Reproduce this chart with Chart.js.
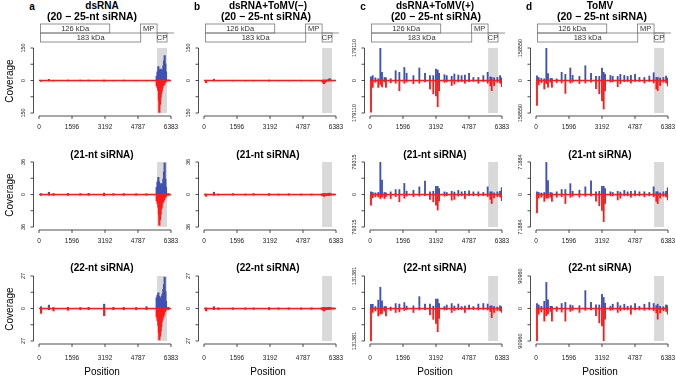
<!DOCTYPE html>
<html>
<head>
<meta charset="utf-8">
<script src="https://cdn.jsdelivr.net/npm/chart.js@4.4.0/dist/chart.umd.min.js"></script>
<style>
  body { margin: 0; background: #fff; }
  #fig { position: relative; width: 676px; height: 378px; overflow: hidden;
         font-family: "Liberation Sans", Arial, sans-serif; color: #000; }
  #fig canvas { position: absolute; }
  .lbl { position: absolute; white-space: nowrap; transform: translate(-50%, -50%); line-height: 1; }
  .ttl { font-weight: bold; font-size: 10px; }
  .sub { font-weight: bold; font-size: 10.5px; }
  .axt { font-size: 10px; }
  .let { font-weight: bold; font-size: 10px; }
</style>
</head>
<body>
<div id="fig"></div>
<script>
// ---- data ----
const genomeLen = 6383;
const xTicks = [0, 1596, 3192, 4787, 6383];
const panelLetters = ["a", "b", "c", "d"];
const panelTitles = ["dsRNA", "dsRNA+ToMV(\u2212)", "dsRNA+ToMV(+)", "ToMV"];
const rowTitles = ["(20 \u2212 25-nt siRNA)", "(21-nt siRNA)", "(22-nt siRNA)"];
const yMax = [
  [150, 150, 179110, 158550],
  [36, 36, 79315, 71884],
  [27, 27, 131381, 90960]
];

// ORF map (nt)
const geneNames = ["126 kDa", "183 kDa", "MP", "CP"];
const geneStart = [72, 72, 4903, 5712];
const geneEnd = [3420, 4919, 5709, 6190];
const geneLane = [0, 1, 0, 1];
const cpShade = [5712, 6190];

// columns a, b (dsRNA / dsRNA+ToMV(-)): positions in nt
const abPos = [100, 480, 700, 1400, 2000, 2400, 3150, 3600, 4100, 4700, 5200,
  5690, 5730, 5771, 5800, 5820, 5850, 5884, 5910, 5932, 5970, 6013, 6045, 6077, 6110, 6140, 6250];
const aSense20 = [1, 5, 1, 2, 2, 2, 2, 1, 2, 1, 1, 20, 40, 64, 50, 45, 40, 53, 45, 38, 50, 68, 90, 115, 76, 40, 3];
const aAnti20 = [4, 2, 3, 2, 2, 2, 4, 2, 2, 2, 2, 24, 35, 47, 90, 147, 110, 78, 60, 47, 35, 24, 18, 12, 8, 5, 2];
const aSense21 = [1, 2.5, 1, 1.2, 1, 1.2, 1.5, 1, 1, 0.8, 0.8, 8, 14, 19, 14, 12, 10, 12, 10, 8, 12, 17, 25, 35, 17, 8, 1];
const aAnti21 = [1, 0.8, 1, 1, 0.8, 1, 1.5, 0.8, 1, 0.8, 0.8, 7, 10, 14, 22, 34, 28, 22, 16, 14, 10, 8, 6, 4, 3, 2, 1];
const aSense22 = [1.5, 2.8, 0.8, 1, 0.8, 1, 3.6, 1, 1, 0.8, 1.5, 9, 11, 13, 10, 8, 7, 8, 9, 10, 12, 16, 20, 26, 14, 6, 1];
const aAnti22 = [4, 1, 2, 1.5, 1, 1, 6, 1, 1, 1, 1, 7, 10, 14, 20, 26, 23, 19, 15, 11, 9, 7, 5, 3, 2, 1, 1];
const bSense20 = [1, 6, 1, 1, 1, 1, 2, 1, 1, 1, 1, 1, 1, 1, 2, 1, 1, 2, 1, 1, 2, 3, 5, 9, 3, 1, 1];
const bAnti20 = [10, 2, 2, 2, 2, 2, 3, 2, 2, 2, 2, 3, 5, 10, 15, 12, 8, 5, 3, 2, 2, 2, 2, 1, 1, 1, 1];
const bSense21 = [0.5, 2.5, 0.5, 1, 0.5, 1, 1, 0.5, 0.8, 0.5, 0.5, 0.5, 0.5, 0.5, 0.8, 0.5, 0.5, 0.8, 0.5, 0.5, 0.5, 1, 1, 1.5, 0.5, 0.5, 0.5];
const bAnti21 = [2, 1, 0.8, 0.8, 0.8, 0.8, 1, 0.8, 0.8, 0.8, 0.8, 0.8, 1, 1.5, 2, 1.5, 1, 1, 0.8, 0.8, 0.8, 0.8, 0.8, 0.5, 0.5, 0.5, 0.5];
const bSense22 = [0.5, 1.5, 0.5, 0.5, 0.5, 0.5, 0.8, 0.5, 0.5, 0.5, 0.5, 0.5, 0.5, 0.5, 0.5, 0.5, 0.5, 0.5, 0.5, 0.5, 0.5, 0.8, 0.8, 1, 0.5, 0.5, 0.5];
const bAnti22 = [2, 1, 1, 0.8, 0.8, 0.8, 1, 0.8, 0.8, 0.8, 0.8, 0.8, 1, 1.5, 2, 1.5, 1, 0.8, 0.8, 0.8, 0.8, 0.8, 0.5, 0.5, 0.5, 0.5, 0.5];

// columns c, d (ToMV present): peak positions in nt
const tomvPos = [48, 130, 260, 400, 500, 580, 700, 770, 1000, 1240, 1420, 1660, 1770, 2100, 2386, 2660,
  2900, 3060, 3190, 3272, 3340, 3600, 3710, 3950, 4080, 4270, 4430, 4590, 4790, 5000, 5240, 5480,
  5690, 5820, 5885, 6000, 6160, 6290, 6370];
const cSense20 = [20000, 27000, 15000, 10000, 178000, 45000, 17000, 15000, 10000, 54000, 45000, 72000, 40000, 27000, 69000, 40000,
  27000, 27000, 63000, 58000, 40000, 32000, 27000, 23000, 36000, 30000, 27000, 30000, 40000, 17000, 17000, 27000,
  45000, 20000, 17000, 15000, 17000, 27000, 15000];
const cAnti20 = [175000, 38000, 10000, 38000, 22000, 35000, 8000, 38000, 12000, 15000, 56000, 15000, 8000, 18000, 15000, 8000,
  47000, 74000, 85000, 144000, 56000, 10000, 8000, 28000, 19000, 8000, 6000, 15000, 6000, 5000, 15000, 6000,
  15000, 30000, 56000, 28000, 10000, 15000, 34000];
const cSense21 = [6500, 5000, 4000, 5000, 79000, 35000, 5000, 4000, 6500, 12000, 12000, 27000, 8000, 10500, 18600, 33000,
  6500, 8000, 20000, 20000, 14500, 6500, 5000, 8000, 6000, 10000, 6500, 8000, 9000, 6500, 6500, 5000,
  18600, 6500, 6500, 4000, 6500, 8000, 17000];
const cAnti21 = [26000, 8000, 5700, 6000, 9700, 6000, 9700, 5000, 9700, 5000, 17800, 9000, 4000, 5000, 4000, 3000,
  12000, 18000, 26000, 38000, 16000, 4000, 3000, 13800, 12000, 4000, 3000, 9700, 3000, 3000, 4000, 3000,
  5000, 12000, 22000, 8000, 5000, 6000, 15000];
const cSense22 = [17000, 17000, 8000, 34000, 86000, 31000, 8000, 8000, 6000, 20000, 18000, 24000, 10000, 11000, 48000, 18000,
  18000, 10000, 38000, 38000, 20000, 8000, 14000, 20000, 10000, 18000, 8000, 10000, 14000, 8000, 18000, 20000,
  18000, 10000, 11000, 8000, 6000, 11000, 8000];
const cAnti22 = [131000, 16000, 10000, 30000, 23000, 20000, 10000, 30000, 8000, 16000, 14000, 8000, 5000, 16000, 6000, 5000,
  25000, 44000, 60000, 94000, 40000, 6000, 5000, 16000, 8000, 5000, 4000, 16000, 4000, 4000, 6000, 4000,
  6000, 12000, 37000, 16000, 8000, 10000, 16000];
const dSense20 = [23000, 15000, 10000, 8000, 158000, 34000, 10000, 10000, 8000, 40000, 30000, 61000, 25000, 20000, 72000, 35000,
  20000, 20000, 61000, 40000, 30000, 25000, 20000, 20000, 30000, 25000, 20000, 25000, 30000, 15000, 15000, 22000,
  38000, 15000, 15000, 12000, 15000, 22000, 12000];
const dAnti20 = [122000, 20000, 10000, 41000, 15000, 33000, 8000, 33000, 10000, 12000, 63000, 12000, 8000, 15000, 12000, 8000,
  40000, 65000, 98000, 139000, 50000, 8000, 6000, 30000, 15000, 6000, 5000, 12000, 5000, 5000, 12000, 5000,
  12000, 41000, 49000, 25000, 8000, 12000, 26000];
const dSense21 = [6000, 4500, 3500, 4500, 71000, 31000, 4500, 3500, 6000, 11000, 11000, 24000, 7000, 9500, 17000, 30000,
  6000, 7000, 18000, 18000, 13000, 6000, 4500, 7000, 5500, 9000, 6000, 7000, 8000, 6000, 6000, 4500,
  17000, 6000, 6000, 3500, 6000, 7000, 15000];
const dAnti21 = [40000, 8000, 6000, 15000, 8000, 8000, 6000, 15000, 6000, 5000, 20000, 6000, 4000, 6000, 4000, 3000,
  15000, 25000, 35000, 60000, 20000, 3000, 3000, 12000, 8000, 3000, 3000, 6000, 3000, 3000, 5000, 3000,
  5000, 15000, 20000, 8000, 4000, 5000, 12000];
const dSense22 = [14000, 10000, 6000, 20000, 73000, 24000, 6000, 6000, 5000, 14000, 17000, 10000, 8000, 8000, 50000, 17000,
  10000, 10000, 40000, 31000, 15000, 6000, 12000, 17000, 8000, 12000, 6000, 8000, 14000, 6000, 12000, 17000,
  14000, 8000, 12000, 6000, 5000, 10000, 8000];
const dAnti22 = [91000, 16000, 10000, 35000, 20000, 15000, 8000, 35000, 8000, 10000, 35000, 8000, 5000, 11000, 5000, 4000,
  20000, 40000, 49000, 90000, 30000, 5000, 4000, 11000, 6000, 4000, 4000, 16000, 4000, 4000, 5000, 4000,
  6000, 12000, 30000, 12000, 6000, 8000, 16000];

const panelPos = [abPos, abPos, tomvPos, tomvPos];
const senseSets = [
  [aSense20, bSense20, cSense20, dSense20],
  [aSense21, bSense21, cSense21, dSense21],
  [aSense22, bSense22, cSense22, dSense22]
];
const antiSets = [
  [aAnti20, bAnti20, cAnti20, dAnti20],
  [aAnti21, bAnti21, cAnti21, dAnti21],
  [aAnti22, bAnti22, cAnti22, dAnti22]
];

// ---- layout ----
const colX0 = [39, 204, 370, 536];
const rowY0 = [48, 162, 276];
const plotW = 132, plotH = 65;
const pad = { left: 38, right: 10, top: 30, bottom: 24 };
const barW = [1.5, 1.5, 1.2, 1.2];

const blueCol = "#3f51b5";
const redCol = "#ff1a1a";
const shadeCol = "#d9d9d9";
const axisCol = "#222";

const fig = document.getElementById("fig");

function addLabel(text, x, y, cls, rotate) {
  const d = document.createElement("div");
  d.className = "lbl " + cls;
  d.textContent = text;
  d.style.left = x + "px";
  d.style.top = y + "px";
  if (rotate) d.style.transform = "translate(-50%, -50%) rotate(-90deg)";
  fig.appendChild(d);
}

// R-like axes, CP shading, zero line and ORF boxes
const rStyle = {
  id: "rStyle",
  beforeDatasetsDraw(chart) {
    const { ctx, scales: { x, y } } = chart;
    const m = chart.options.plugins.rStyle.max;
    const l = x.getPixelForValue(cpShade[0]), r = x.getPixelForValue(cpShade[1]);
    const t = y.getPixelForValue(m), b = y.getPixelForValue(-m);
    ctx.save();
    ctx.fillStyle = shadeCol;
    ctx.fillRect(l, t, r - l, b - t);
    ctx.restore();
  },
  afterDatasetsDraw(chart) {
    const { ctx, scales: { x, y } } = chart;
    const y0 = y.getPixelForValue(0);
    ctx.save();
    ctx.strokeStyle = redCol;
    ctx.lineWidth = 1.4;
    ctx.beginPath();
    ctx.moveTo(x.getPixelForValue(0), y0);
    ctx.lineTo(x.getPixelForValue(genomeLen), y0);
    ctx.stroke();
    ctx.restore();
  },
  afterDraw(chart) {
    const { ctx, chartArea: a, scales: { x, y } } = chart;
    const o = chart.options.plugins.rStyle;
    const m = o.max;
    ctx.save();
    ctx.strokeStyle = axisCol;
    ctx.fillStyle = axisCol;
    ctx.lineWidth = 0.8;
    // y axis
    const ax = a.left - 5.5;
    const yt = [m, m / 2, 0, -m / 2, -m];
    ctx.beginPath();
    ctx.moveTo(ax, y.getPixelForValue(m));
    ctx.lineTo(ax, y.getPixelForValue(-m));
    yt.forEach(v => {
      const py = y.getPixelForValue(v);
      ctx.moveTo(ax, py);
      ctx.lineTo(ax - 3, py);
    });
    ctx.stroke();
    ctx.font = "5.5px 'Liberation Sans', Arial, sans-serif";
    ctx.textAlign = "center";
    ctx.textBaseline = "middle";
    [m, 0, -m].forEach(v => {
      const py = y.getPixelForValue(v);
      ctx.save();
      ctx.translate(ax - 10, py);
      ctx.rotate(-Math.PI / 2);
      ctx.fillText(String(Math.abs(v)), 0, 0);
      ctx.restore();
    });
    // x axis
    const ay = a.bottom + 3;
    ctx.beginPath();
    ctx.moveTo(x.getPixelForValue(0), ay);
    ctx.lineTo(x.getPixelForValue(genomeLen), ay);
    xTicks.forEach(v => {
      const px = x.getPixelForValue(v);
      ctx.moveTo(px, ay);
      ctx.lineTo(px, ay + 3);
    });
    ctx.stroke();
    ctx.font = "6.5px 'Liberation Sans', Arial, sans-serif";
    xTicks.forEach(v => {
      ctx.fillText(String(v), x.getPixelForValue(v), a.bottom + o.tickGap);
    });
    // ORF boxes in top row
    if (o.row === 0) {
      ctx.strokeStyle = "#777";
      ctx.lineWidth = 0.8;
      ctx.font = "7.5px 'Liberation Sans', Arial, sans-serif";
      ctx.fillStyle = "#333";
      geneNames.forEach((g, i) => {
        const l = x.getPixelForValue(geneStart[i]);
        const r = x.getPixelForValue(geneEnd[i]);
        const t = a.top - 24 + geneLane[i] * 9;
        ctx.strokeRect(l, t, r - l, 9);
        ctx.fillText(g, (l + r) / 2, t + 5);
      });
      const lt = a.top - 15;
      ctx.beginPath();
      ctx.moveTo(x.getPixelForValue(geneEnd[2]), lt);
      ctx.lineTo(x.getPixelForValue(genomeLen) + 3, lt);
      ctx.stroke();
    }
    ctx.restore();
  }
};

const tickGaps = [14, 14.5, 17];

for (let r = 0; r < 3; r++) {
  for (let c = 0; c < 4; c++) {
    const cv = document.createElement("canvas");
    const w = pad.left + plotW + pad.right;
    const h = pad.top + plotH + pad.bottom;
    cv.width = w; cv.height = h;
    cv.style.left = (colX0[c] - pad.left) + "px";
    cv.style.top = (rowY0[r] - pad.top) + "px";
    cv.style.width = w + "px"; cv.style.height = h + "px";
    fig.appendChild(cv);
    const pos = panelPos[c];
    const sense = senseSets[r][c];
    const anti = antiSets[r][c];
    const m = yMax[r][c];
    new Chart(cv.getContext("2d"), {
      type: "bar",
      data: {
        datasets: [
          {
            label: "sense",
            data: pos.map((p, i) => ({ x: p, y: sense[i] })),
            backgroundColor: blueCol,
            barThickness: barW[c],
            grouped: false
          },
          {
            label: "antisense",
            data: pos.map((p, i) => ({ x: p, y: -anti[i] })),
            backgroundColor: redCol,
            barThickness: barW[c],
            grouped: false
          }
        ]
      },
      options: {
        responsive: false,
        animation: false,
        devicePixelRatio: 1,
        layout: { padding: pad },
        plugins: {
          legend: { display: false },
          tooltip: { enabled: false },
          rStyle: { max: m, row: r, tickGap: tickGaps[r] }
        },
        scales: {
          x: { type: "linear", min: 0, max: genomeLen, display: false, offset: false },
          y: { min: -m, max: m, display: false }
        }
      },
      plugins: [rStyle]
    });
  }
}

// titles and labels
const titleX = [102, 268, 435, 600];
const subX = [92, 266, 436, 602];
for (let c = 0; c < 4; c++) {
  addLabel(panelLetters[c], colX0[c] - 7, 7, "let");
  addLabel(panelTitles[c], titleX[c], 6, "ttl");
  addLabel(rowTitles[0], subX[c], 16, "sub");
  addLabel(rowTitles[1], titleX[c], 155, "ttl");
  addLabel(rowTitles[2], titleX[c], 268, "ttl");
  addLabel("Position", titleX[c], 372, "axt");
}
for (let r = 0; r < 3; r++) {
  addLabel("Coverage", 10, rowY0[r] + plotH / 2, "axt", true);
}
</script>
</body>
</html>
